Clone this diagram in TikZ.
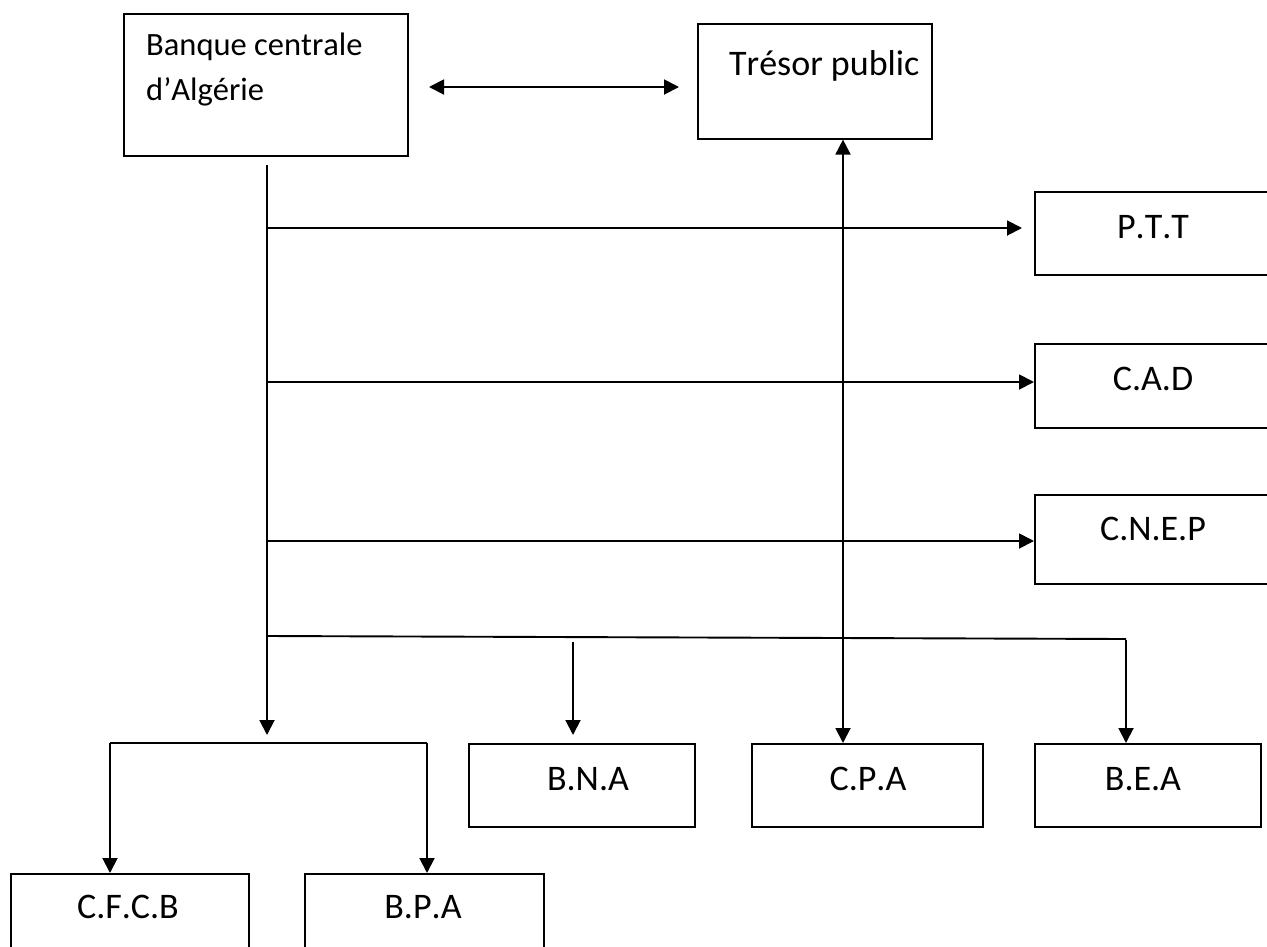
\documentclass[tikz,border=0pt]{standalone}
\usepackage{fontspec}
\setmainfont{Carlito}[Kerning=Off]
\usetikzlibrary{arrows.meta}
\begin{document}
\begin{tikzpicture}[x=1pt,y=-1pt,
  box/.style={draw,line width=1.6pt,anchor=north west,inner sep=0pt,rectangle},
  lbl/.style={anchor=base,inner sep=0pt,font=\fontsize{36}{40}\selectfont},
  conn/.style={line width=1.9pt},
  arr/.style={conn,-{Triangle[length=15pt,width=15pt]}},
  darr/.style={conn,{Triangle[length=15pt,width=15pt]}-{Triangle[length=15pt,width=15pt]}}]
\useasboundingbox (0,0) rectangle (1267,946);
\clip (0,0) rectangle (1267,946);
% boxes
\node[box,minimum width=284pt,minimum height=142pt] (bc) at (123,13) {};
\node[box,minimum width=234pt,minimum height=115pt] (tp) at (697,23) {};
\node[box,minimum width=260pt,minimum height=83pt] (ptt) at (1034,191) {};
\node[box,minimum width=260pt,minimum height=84pt] (cad) at (1034,343) {};
\node[box,minimum width=260pt,minimum height=89pt] (cnep) at (1034,494) {};
\node[box,minimum width=226pt,minimum height=83pt] (bna) at (468,743) {};
\node[box,minimum width=231pt,minimum height=83pt] (cpa) at (751,743) {};
\node[box,minimum width=226pt,minimum height=83pt] (bea) at (1034,743) {};
\node[box,minimum width=238pt,minimum height=100pt] (cfcb) at (10,873) {};
\node[box,minimum width=239pt,minimum height=100pt] (bpa) at (304,873) {};
% texts
\node[anchor=base west,inner sep=0pt,font=\fontsize{32.5}{40}\selectfont] (bct1) at (146,55) {Banque centrale};
\node[anchor=base west,inner sep=0pt,font=\fontsize{32.5}{40}\selectfont] (bct2) at (146,100) {d’Algérie};
\node[anchor=base west,inner sep=0pt,font=\fontsize{36}{44}\selectfont] (tpt) at (729,75) {Trésor public};
\node[lbl] (pttt) at (1153,238) {P.T.T};
\node[lbl] (cadt) at (1153,390) {C.A.D};
\node[lbl] (cnept) at (1153,540) {C.N.E.P};
\node[lbl] (bnat) at (588,790) {B.N.A};
\node[lbl] (cpat) at (868,790) {C.P.A};
\node[lbl] (beat) at (1143,790) {B.E.A};
\node[lbl] (cfcbt) at (128,918) {C.F.C.B};
\node[lbl] (bpat) at (423,918) {B.P.A};
% free ends
\coordinate (d1) at (429,87);
\coordinate (d2) at (679,87);
\coordinate (t0) at (267,165);
\coordinate (t1) at (267,735);
\coordinate (h1) at (267,228);
\coordinate (h1e) at (1022,228);
\coordinate (h2) at (267,382);
\coordinate (h3) at (267,541);
\coordinate (h4) at (267,636);
\coordinate (h4e) at (1126,639);
\coordinate (b1) at (573,642);
\coordinate (b1e) at (573,735);
\coordinate (b3) at (1126,640);
\coordinate (cx) at (843,0);
\coordinate (k1) at (110,743);
\coordinate (k2) at (427,743);
% connectors
\draw[darr] (d1) -- (d2);
\draw[arr] (t0) -- (t1);
\draw[arr] (h1) -- (h1e);
\draw[arr] (h2) -- (h2 -| cad.west);
\draw[arr] (h3) -- (h3 -| cnep.west);
\draw[conn] (h4) -- (h4e);
\draw[arr] (b1) -- (b1e);
\draw[arr] (b3) -- (b3 |- bea.north);
\draw[darr] (tp.south -| cx) -- (cpa.north -| cx);
\draw[conn] (k1) -- (k2);
\draw[arr] (k1) -- (k1 |- cfcb.north);
\draw[arr] (k2) -- (k2 |- bpa.north);
\end{tikzpicture}
\end{document}
